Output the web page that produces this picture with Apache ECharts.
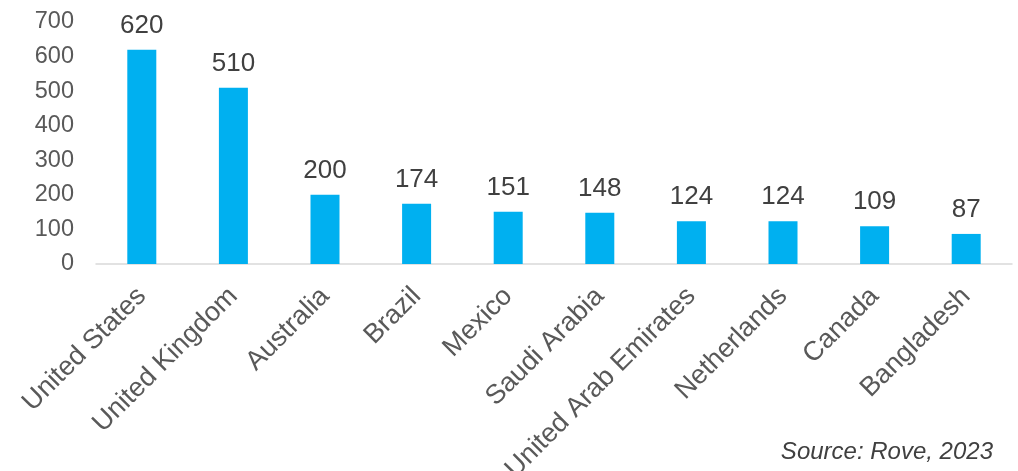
<!DOCTYPE html>
<html><head><meta charset="utf-8">
<script src="https://cdn.jsdelivr.net/npm/echarts@6/dist/echarts.min.js"></script>
<style>html,body{margin:0;padding:0;background:#fff}#c{width:1018px;height:471px}</style>
</head><body><div id="c"></div>
<script>
const categories = ["United States","United Kingdom","Australia","Brazil","Mexico","Saudi Arabia","United Arab Emirates","Netherlands","Canada","Bangladesh"];
const values = [620,510,200,174,151,148,124,124,109,87];
const yTicks = [0,100,200,300,400,500,600,700];
const sourceText = "Source: Rove, 2023";
const chart = echarts.init(document.getElementById('c'));
chart.setOption({
  animation:false,
  textStyle:{fontFamily:'Liberation Sans, Arial, sans-serif'},
  grid:{left:96,right:6,top:22,bottom:207,containLabel:false,outerBoundsMode:'none'},
  xAxis:{type:'category',data:categories,
    axisLine:{lineStyle:{color:'#d9d9d9',width:1.5}},
    axisTick:{show:false},
    axisLabel:{rotate:45,fontSize:27,color:'#595959',margin:28,interval:0,fontFamily:'Liberation Sans'}},
  yAxis:{type:'value',min:yTicks[0],max:yTicks[yTicks.length-1],interval:100,
    splitLine:{show:false},axisLine:{show:false},axisTick:{show:false},
    axisLabel:{fontSize:23.5,color:'#595959',margin:22,fontFamily:'Liberation Sans'}},
  series:[{type:'bar',data:values,barWidth:29,
    itemStyle:{color:'#00B0F0'},
    label:{show:true,position:'top',distance:11,fontSize:26,color:'#404040',fontFamily:'Liberation Sans'}}],
  graphic:[{type:'text',right:25,top:440,style:{text:sourceText,fontSize:24,fontStyle:'italic',fill:'#404040',fontFamily:'Liberation Sans'}}]
});
</script></body></html>
